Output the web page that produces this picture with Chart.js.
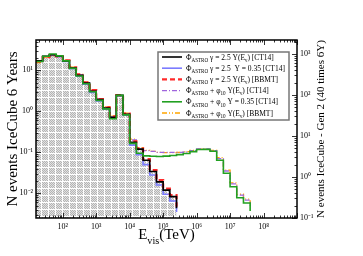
<!DOCTYPE html>
<html>
<head>
<meta charset="utf-8">
<script src="https://cdn.jsdelivr.net/npm/chart.js@4.4.0/dist/chart.umd.min.js"></script>
<style>
body { margin: 0; background: #fff; }
#wrap { width: 363px; height: 256px; }
</style>
</head>
<body>
<div id="wrap"><canvas id="chart"></canvas></div>
<script>
// bin edges, log10(E_vis / TeV)
const binEdges = [1.2,1.4,1.6,1.8,2.0,2.2,2.4,2.6,2.8,3.0,3.2,3.4,3.6,3.8,4.0,4.2,4.4,4.6,4.8,5.0,
                  5.2,5.4,5.6,5.8,6.0,6.2,6.4,6.6,6.8,7.0,7.2,7.4,7.6,7.8,8.0,8.2,8.4,8.6,8.8,9.0];

// events per bin (IceCube 6 years), last 0 = histogram ends
const astroCT14 = [17,22,24,22,17,11.4,7.6,4.9,3.1,1.95,1.2,0.72,2.45,0.85,0.176,0.12,0.064,0.034,0.019,0.012,0.0083,0.0043,0];
const astroY035 = [16.5,21.5,23.5,21.5,16.5,11,7.2,4.6,2.9,1.8,1.12,0.68,2.4,0.8,0.15,0.088,0.05,0.028,0.016,0.0095,0.0065,0.0035,0];
const astroBBMT = [16.5,21,23,22,17.5,11.8,8,5.1,3.3,2.0,1.25,0.75,2.5,0.88,0.185,0.125,0.068,0.037,0.021,0.013,0.009,0.0047,0];
const cosmoCT14 = [17,22,24,22,17,11.5,7.7,5.0,3.2,2.0,1.22,0.74,2.45,0.86,0.2,0.125,0.11,0.105,0.1,0.1,0.1,0.1,0.102,0.11,0.122,0.122,0.11,0.07,0.035,0.017,0.009,0.0068,0.005,0];
const cosmoY035 = [16.5,22,25,22.5,17,11.2,7.3,4.7,3.0,1.85,1.15,0.66,2.45,0.82,0.165,0.095,0.082,0.08,0.079,0.081,0.084,0.088,0.094,0.104,0.117,0.118,0.106,0.064,0.031,0.0145,0.0078,0.0058,0.0037,0];
const cosmoBBMT = [15.5,21,23,22,17.5,12,8,5.2,3.4,2.05,1.3,0.76,2.5,0.9,0.21,0.13,0.112,0.106,0.1,0.098,0.098,0.1,0.104,0.112,0.12,0.122,0.112,0.074,0.037,0.018,0.0095,0.0072,0.0056,0];

const xTickExp = [2,3,4,5,6,7,8];
const yTickExp = [-2,-1,0,1];
const y2TickExp = [-1,0,1,2,3];

// legend texts: [text, isSubscript]
const legendRows = [
  [['Φ'],['ASTRO',1],[' γ = 2.5 Y(E'],['ν',1],[') [CT14]']],
  [['Φ'],['ASTRO',1],[' γ = 2.5  Y = 0.35 [CT14]']],
  [['Φ'],['ASTRO',1],[' γ = 2.5 Y(E'],['ν',1],[') [BBMT]']],
  [['Φ'],['ASTRO',1],[' + φ'],['10',1],[' Y(E'],['ν',1],[') [CT14]']],
  [['Φ'],['ASTRO',1],[' + φ'],['10',1],[' Y = 0.35 [CT14]']],
  [['Φ'],['ASTRO',1],[' + φ'],['10',1],[' Y(E'],['ν',1],[') [BBMT]']]
];

const FONT = '"Liberation Serif", "Times New Roman", serif';

function pts(vals) {
  return vals.map((v, i) => ({x: Math.pow(10, binEdges[i]), y: v}));
}

const sup = {'-':'⁻','0':'⁰','1':'¹','2':'²','3':'³','4':'⁴','5':'⁵','6':'⁶','7':'⁷','8':'⁸','9':'⁹'};
function pow10Label(v) {
  const e = Math.round(Math.log10(v));
  return '10' + String(e).split('').map(c => sup[c]).join('');
}

// grey hatch used under the IceCube histogram
function hatch() {
  const c = document.createElement('canvas');
  c.width = 7; c.height = 7;
  const g = c.getContext('2d');
  g.fillStyle = '#e2e2e2';
  g.fillRect(0, 0, 7, 7);
  g.fillStyle = '#b4b4b4';
  for (let i = 0; i < 6; i++) for (let j = 0; j < 6; j++) if ((i + j) % 2 === 0) g.fillRect(i, j, 1, 1);
  g.fillStyle = '#ffffff';
  g.fillRect(6, 0, 1, 7);
  g.fillRect(0, 6, 7, 1);
  return g.createPattern(c, 'repeat');
}

const series = [
  {label:'astroCT14', data:astroCT14, color:'#000000', width:1.6, dash:[]},
  {label:'astroY035', data:astroY035, color:'#7b7bff', width:1.6, dash:[]},
  {label:'astroBBMT', data:astroBBMT, color:'#ff2a2a', width:2.2, dash:[5,3]},
  {label:'cosmoCT14', data:cosmoCT14, color:'#a066dd', width:1.3, dash:[5,2,1,2]},
  {label:'cosmoY035', data:cosmoY035, color:'#22a022', width:1.6, dash:[]},
  {label:'cosmoBBMT', data:cosmoBBMT, color:'#ffa500', width:1.3, dash:[5,2,1,2,1,2]}
];

// drawing order: index 0 ends up on top
const drawOrder = [4, 0, 2, 3, 5, 1];
const datasets = drawOrder.map(k => {
  const s = series[k];
  return {
    label: s.label,
    data: pts(s.data),
    borderColor: s.color,
    borderWidth: s.width,
    borderDash: s.dash,
    stepped: true,
    pointRadius: 0,
    fill: false,
    yAxisID: 'y'
  };
});
datasets.push({
  label: 'fill',
  data: pts(astroCT14),
  borderWidth: 0,
  borderColor: 'rgba(0,0,0,0)',
  backgroundColor: hatch(),
  stepped: true,
  pointRadius: 0,
  fill: 'start',
  yAxisID: 'y'
});

function rich(ctx, segs, x, y, size) {
  segs.forEach(([t, sub]) => {
    const s = sub ? size * 0.68 : size;
    ctx.font = s + 'px ' + FONT;
    ctx.fillText(t, x, sub ? y + size * 0.3 : y);
    x += ctx.measureText(t).width;
  });
  return x;
}

function richWidth(ctx, segs, size) {
  let w = 0;
  segs.forEach(([t, sub]) => {
    ctx.font = (sub ? size * 0.68 : size) + 'px ' + FONT;
    w += ctx.measureText(t).width;
  });
  return w;
}

const decor = {
  id: 'decor',
  afterDraw(chart) {
    const ctx = chart.ctx;
    const a = chart.chartArea;
    const sx = chart.scales.x, sy = chart.scales.y, sy2 = chart.scales.y2;
    ctx.save();

    // inward ticks
    ctx.strokeStyle = '#000';
    ctx.lineWidth = 0.8;
    ctx.beginPath();
    for (let e = 1; e <= 9; e++) for (let m = 1; m <= 9; m++) {
      const v = m * Math.pow(10, e);
      if (v < sx.min || v > sx.max) continue;
      const px = Math.round(sx.getPixelForValue(v)) + 0.5;
      const len = m === 1 ? 5 : 2.5;
      ctx.moveTo(px, a.bottom); ctx.lineTo(px, a.bottom - len);
      ctx.moveTo(px, a.top); ctx.lineTo(px, a.top + len);
    }
    for (let e = -3; e <= 2; e++) for (let m = 1; m <= 9; m++) {
      const v = m * Math.pow(10, e);
      if (v < sy.min || v > sy.max) continue;
      const py = Math.round(sy.getPixelForValue(v)) + 0.5;
      const len = m === 1 ? 5 : 2.5;
      ctx.moveTo(a.left, py); ctx.lineTo(a.left + len, py);
    }
    for (let e = -2; e <= 4; e++) for (let m = 1; m <= 9; m++) {
      const v = m * Math.pow(10, e);
      if (v < sy2.min || v > sy2.max) continue;
      const py = Math.round(sy2.getPixelForValue(v)) + 0.5;
      const len = m === 1 ? 5 : 2.5;
      ctx.moveTo(a.right, py); ctx.lineTo(a.right - len, py);
    }
    ctx.stroke();

    // frame
    ctx.lineWidth = 1.5;
    ctx.strokeRect(a.left, a.top, a.right - a.left, a.bottom - a.top);

    // legend box
    const bx = 158, by = 52, bw = 131, bh = 68;
    ctx.fillStyle = '#fff';
    ctx.fillRect(bx, by, bw, bh);
    ctx.strokeStyle = '#777';
    ctx.lineWidth = 1.5;
    ctx.strokeRect(bx, by, bw, bh);
    ctx.fillStyle = '#000';
    ctx.textBaseline = 'alphabetic';
    ctx.textAlign = 'left';
    series.forEach((s, i) => {
      const cy = 57 + i * 11.2;
      ctx.strokeStyle = s.color;
      ctx.lineWidth = s.width;
      ctx.setLineDash(s.dash);
      ctx.beginPath();
      ctx.moveTo(162, cy); ctx.lineTo(182, cy);
      ctx.stroke();
      ctx.setLineDash([]);
      rich(ctx, legendRows[i], 186, cy + 2.5, 7.5);
    });

    // x title
    const xt = [['E'],['vis',1],['(TeV)']];
    const w = richWidth(ctx, xt, 15);
    rich(ctx, xt, (a.left + a.right) / 2 - w / 2, 239, 15);

    // right title
    ctx.translate(321, (a.top + a.bottom) / 2);
    ctx.rotate(-Math.PI / 2);
    ctx.font = '11px ' + FONT;
    ctx.textAlign = 'center';
    ctx.textBaseline = 'middle';
    ctx.fillText('N events IceCube - Gen 2 (40 times 6Y)', 0, 0);
    ctx.restore();
  }
};

const tickFont = {family: FONT, size: 8};

new Chart(document.getElementById('chart'), {
  type: 'line',
  data: { datasets },
  options: {
    responsive: true,
    maintainAspectRatio: false,
    animation: false,
    layout: { padding: { top: 40, left: 0, right: 0, bottom: 0 } },
    plugins: {
      legend: { display: false },
      tooltip: { enabled: false }
    },
    scales: {
      x: {
        type: 'logarithmic',
        position: 'bottom',
        min: Math.pow(10, 1.2),
        max: 1e9,
        grid: { display: false, drawTicks: false },
        border: { display: false },
        afterBuildTicks: s => { s.ticks = xTickExp.map(e => ({value: Math.pow(10, e)})); },
        afterFit: s => { s.height = 38; },
        ticks: { callback: pow10Label, font: tickFont, color: '#000', padding: 4, autoSkip: false, maxRotation: 0 }
      },
      y: {
        type: 'logarithmic',
        position: 'left',
        min: 0.0025,
        max: 55,
        grid: { display: false, drawTicks: false },
        border: { display: false },
        afterBuildTicks: s => { s.ticks = yTickExp.map(e => ({value: Math.pow(10, e)})); },
        afterFit: s => { s.width = 36; },
        ticks: { callback: pow10Label, font: tickFont, color: '#000', padding: 3, autoSkip: false },
        title: {
          display: true,
          text: 'N events IceCube 6 Years',
          font: {family: FONT, size: 15},
          color: '#000',
          padding: {top: 4.5, bottom: 0}
        }
      },
      y2: {
        type: 'logarithmic',
        position: 'right',
        min: 0.1,
        max: 2200,
        grid: { display: false, drawTicks: false },
        border: { display: false },
        afterBuildTicks: s => { s.ticks = y2TickExp.map(e => ({value: Math.pow(10, e)})); },
        afterFit: s => { s.width = 66; },
        ticks: { callback: pow10Label, font: tickFont, color: '#000', padding: 3, autoSkip: false }
      }
    }
  },
  plugins: [decor]
});
</script>
</body>
</html>
